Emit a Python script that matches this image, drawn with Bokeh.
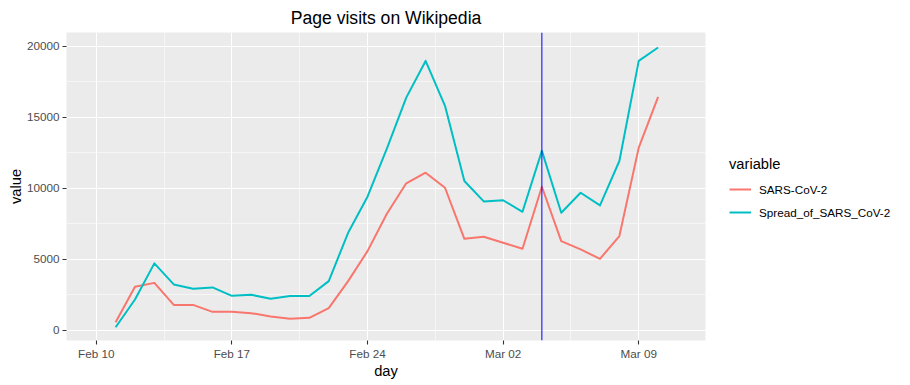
import pandas as pd
from bokeh.plotting import figure
from bokeh.models import (Range1d, FixedTicker, DatetimeTickFormatter, Span,
                          Legend, LegendItem)
from bokeh.embed import file_html
from bokeh.resources import INLINE

# ---------------- data ----------------
days = ["2020-02-11", "2020-02-12", "2020-02-13", "2020-02-14", "2020-02-15",
        "2020-02-16", "2020-02-17", "2020-02-18", "2020-02-19", "2020-02-20",
        "2020-02-21", "2020-02-22", "2020-02-23", "2020-02-24", "2020-02-25",
        "2020-02-26", "2020-02-27", "2020-02-28", "2020-02-29", "2020-03-01",
        "2020-03-02", "2020-03-03", "2020-03-04", "2020-03-05", "2020-03-06",
        "2020-03-07", "2020-03-08", "2020-03-09", "2020-03-10"]
sars_cov_2 = [584, 3070, 3350, 1800, 1800, 1310, 1310, 1220, 990, 820,
              890, 1570, 3470, 5580, 8210, 10350, 11100, 10040, 6450, 6590,
              6170, 5750, 10110, 6290, 5700, 5040, 6640, 12860, 16430]
spread_of_sars_cov_2 = [230, 2180, 4720, 3240, 2930, 3030, 2440, 2510, 2230, 2420,
                        2420, 3470, 6870, 9410, 12790, 16380, 18960, 15800, 10510, 9080,
                        9160, 8350, 12630, 8280, 9690, 8800, 11920, 18960, 19900]
series_names = ["SARS-CoV-2", "Spread_of_SARS_CoV-2"]
series_colors = ["#F8766D", "#00BFC4"]
x_tick_days = ["2020-02-10", "2020-02-17", "2020-02-24", "2020-03-02", "2020-03-09"]
x_minor_days = ["2020-02-13 12:00", "2020-02-20 12:00", "2020-02-27 12:00", "2020-03-05 12:00"]
y_ticks = [0, 5000, 10000, 15000, 20000]
y_minor_ticks = [2500, 7500, 12500, 17500]
vline_day = "2020-03-04"
title_text = "Page visits on Wikipedia"

FONT = "Liberation Sans"


def ms(s):
    return pd.Timestamp(s).value / 1e6


x = pd.to_datetime(days)
x0 = pd.Timestamp("2020-02-10")
x_start = x0 - pd.Timedelta(hours=1.535 * 24)
x_end = x0 + pd.Timedelta(hours=31.445 * 24)

p = figure(x_axis_type="datetime", frame_width=639, frame_height=308,
           output_backend="svg", toolbar_location=None,
           x_range=Range1d(x_start, x_end), y_range=Range1d(-704, 20958),
           min_border_left=66, min_border_top=29, min_border_right=189,
           min_border_bottom=35,
           background_fill_color="#EBEBEB", border_fill_color="white",
           outline_line_color=None)

# title
p.title.text = title_text
p.title.align = "center"
p.title.text_font = FONT
p.title.text_font_size = "17.6px"
p.title.text_font_style = "normal"
p.title.text_color = "black"
p.title.standoff = 10

# ticks
xt = FixedTicker(ticks=[ms(d) for d in x_tick_days],
                 minor_ticks=[ms(d) for d in x_minor_days])
yt = FixedTicker(ticks=y_ticks, minor_ticks=y_minor_ticks)
p.xaxis.ticker = xt
p.yaxis.ticker = yt
p.xgrid.ticker = xt
p.ygrid.ticker = yt
p.xaxis.formatter = DatetimeTickFormatter(days="%b %d", months="%b %d",
                                          years="%b %d", hours="%b %d")

for g in (p.xgrid, p.ygrid):
    g.grid_line_color = "white"
    g.grid_line_width = 1.1
    g.minor_grid_line_color = "white"
    g.minor_grid_line_width = 0.55

for ax in (p.xaxis, p.yaxis):
    ax.axis_line_color = None
    ax.major_tick_line_color = "#333333"
    ax.major_tick_line_width = 1.1
    ax.major_tick_in = 0
    ax.major_tick_out = 4
    ax.minor_tick_line_color = None
    ax.major_label_text_font = FONT
    ax.major_label_text_font_size = "11.7px"
    ax.major_label_text_color = "#4D4D4D"
    ax.major_label_standoff = 3
    ax.axis_label_text_font = FONT
    ax.axis_label_text_font_size = "14.7px"
    ax.axis_label_text_font_style = "normal"
    ax.axis_label_text_color = "black"
    ax.axis_label_standoff = 0

p.xaxis.major_label_standoff = 2
p.xaxis.axis_label = "day"
p.yaxis.axis_label = "value"

# lines
renderers = []
for vals, col in zip([sars_cov_2, spread_of_sars_cov_2], series_colors):
    r = p.line(x, vals, line_color=col, line_width=2, line_join="round")
    renderers.append(r)

# vertical line
p.add_layout(Span(location=ms(vline_day), dimension="height",
                  line_color="#0000FF", line_width=1))

# legend key background (gray boxes)
key_bg = p.line(x=[], y=[], line_color="#F2F2F2", line_width=22, line_cap="butt")

legend = Legend(
    items=[LegendItem(label=n, renderers=[key_bg, r])
           for n, r in zip(series_names, renderers)],
    title="variable",
    location=(24, 117),
    orientation="vertical",
    border_line_color=None,
    background_fill_alpha=0,
    padding=0, margin=0,
    glyph_width=22, glyph_height=22, label_height=22,
    spacing=1, label_standoff=8,
    label_text_font=FONT, label_text_font_size="11.7px", label_text_color="black",
    title_text_font=FONT, title_text_font_size="14.7px",
    title_text_font_style="normal", title_text_color="black",
    title_standoff=6,
)
p.add_layout(legend, "right")

open("out.html", "w").write(file_html(p, INLINE))
